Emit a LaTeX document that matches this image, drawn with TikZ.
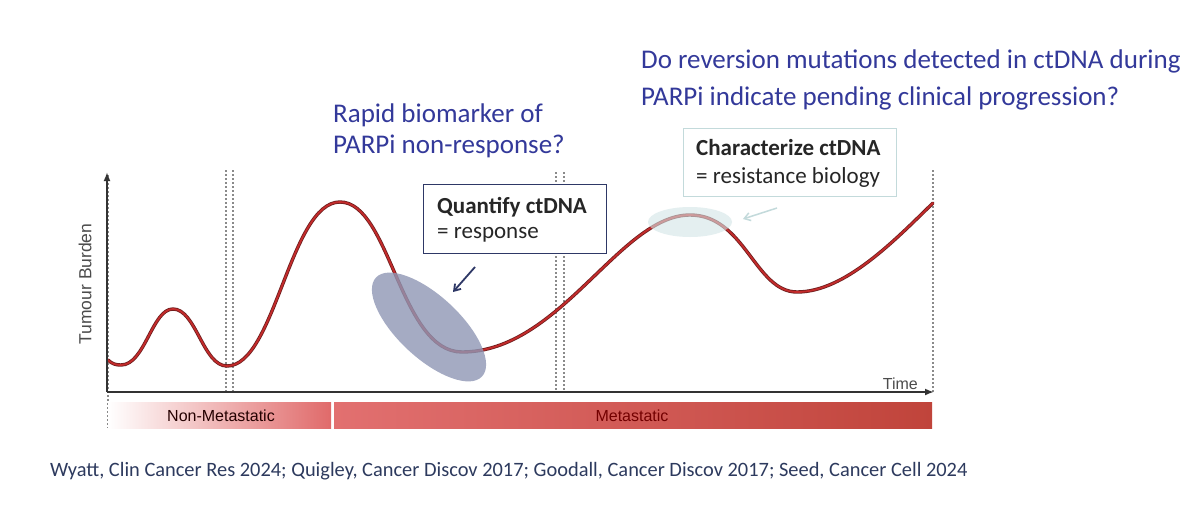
\documentclass[tikz,border=0pt]{standalone}
\usepackage{fontspec}
\setmainfont{Carlito}
\newfontfamily\arialfont{Liberation Sans}
\usetikzlibrary{arrows.meta,shapes.geometric}
\definecolor{navy}{HTML}{33399A}
\definecolor{boxline}{HTML}{2E3866}
\definecolor{cite}{HTML}{2D3A5E}
\definecolor{axis}{HTML}{333333}
\definecolor{guide}{HTML}{8A8A8A}
\definecolor{burden}{HTML}{C42B2B}
\definecolor{burdenedge}{HTML}{6E1E1E}
\definecolor{haze}{HTML}{8F97B5}
\definecolor{mint}{HTML}{D3E5E6}
\definecolor{mintline}{HTML}{C3DADB}
\definecolor{nonmet}{HTML}{E06A6A}
\definecolor{metleft}{HTML}{E27070}
\definecolor{metright}{HTML}{C0443B}
\tikzset{
  question/.style={font=\fontsize{27}{37}\selectfont, text=navy, align=left, inner sep=0pt},
  callout/.style={draw=boxline, line width=1.2pt, fill=white, align=left, inner sep=0pt},
  softcallout/.style={draw=mintline, line width=1pt, fill=white, align=left, inner sep=0pt},
  calltext/.style={font=\fontsize{23}{25}\selectfont, text=black!85, align=left, inner sep=0pt},
  axislabel/.style={font=\arialfont\fontsize{17.5}{20}\selectfont, text=black!70, inner sep=0pt},
  barlabel/.style={font=\arialfont\fontsize{16}{18}\selectfont, inner sep=0pt},
  guideline/.style={draw=guide, line width=1.4pt, dash pattern=on 2pt off 2pt},
  axisline/.style={draw=axis, line width=2pt, -{Latex[length=9pt,width=7pt]}},
  pointer/.style={-{Straight Barb[length=6pt,width=8pt]}, line width=1.8pt},
}
\begin{document}
\begin{tikzpicture}[x=1pt,y=-1pt]
\useasboundingbox[fill=white] (0,0) rectangle (1200,514);
% questions
\node[question, anchor=base west] (revq) at (641,105) {Do reversion mutations detected in ctDNA during\\PARPi indicate pending clinical progression?};
\node[question, font=\fontsize{27}{31}\selectfont, anchor=base west] (rapidq) at (333,153) {Rapid biomarker of\\PARPi non-response?};
% guides
\foreach \gx in {226,233} \draw[guideline] (\gx,170) -- (\gx,392);
\foreach \gx in {556,564} \draw[guideline] (\gx,172) -- (\gx,392);
\draw[guideline] (933,170) -- (933,392);
\draw[guideline] (108,175) -- (108,428);
% callouts
\node[callout, minimum width=183pt, minimum height=69pt, anchor=north west] (quant) at (423,184) {};
\node[calltext, anchor=base west] (quanttxt) at (437,238) {\textbf{Quantify ctDNA}\\= response};
\node[softcallout, minimum width=213pt, minimum height=68pt, anchor=north west] (charac) at (683,128) {};
\node[calltext, font=\fontsize{23}{28}\selectfont, anchor=base west] (charactxt) at (696,183) {\textbf{Characterize ctDNA}\\= resistance biology};
% tumour burden curve
\draw[burdenedge, line width=3.4pt, line cap=round]
  (108,360) .. controls (112,364) and (116,365) .. (121,365)
  .. controls (145,365) and (152,309) .. (173,309)
  .. controls (196,309) and (203,366) .. (227,366)
  .. controls (275,366) and (290,202) .. (340,202)
  .. controls (390,202) and (400,352) .. (462,352)
  .. controls (560,352) and (620,215) .. (690,215)
  .. controls (745,215) and (755,292) .. (797,292)
  .. controls (845,292) and (895,240) .. (933,203);
\draw[burden, line width=1.8pt, line cap=round]
  (108,360) .. controls (112,364) and (116,365) .. (121,365)
  .. controls (145,365) and (152,309) .. (173,309)
  .. controls (196,309) and (203,366) .. (227,366)
  .. controls (275,366) and (290,202) .. (340,202)
  .. controls (390,202) and (400,352) .. (462,352)
  .. controls (560,352) and (620,215) .. (690,215)
  .. controls (745,215) and (755,292) .. (797,292)
  .. controls (845,292) and (895,240) .. (933,203);
% highlights
\node[ellipse, fill=haze, fill opacity=0.8, minimum width=145pt, minimum height=62pt, rotate=-43, inner sep=0pt] (dip) at (429,327) {};
\node[ellipse, fill=mint, fill opacity=0.6, minimum width=84pt, minimum height=30pt, inner sep=0pt] (crest) at (690,222) {};
\coordinate (diptail) at (475,267);
\coordinate (diphead) at (453,292);
\draw[pointer, draw=boxline] (diptail) -- (diphead);
\coordinate (cresttail) at (777,208);
\coordinate (cresthead) at (743,219);
\draw[pointer, draw=mintline, line width=1.5pt] (cresttail) -- (cresthead);
% axes
\coordinate (origin) at (107,392);
\coordinate (ytop) at (107,172);
\coordinate (xend) at (934,392);
\draw[axisline] (origin) -- (ytop);
\draw[axisline] (origin) -- (xend);
\node[axislabel, rotate=90] (ylab) at (85,284) {Tumour Burden};
\node[axislabel, font=\arialfont\fontsize{16}{18}\selectfont, anchor=base east] (xlab) at (918,389) {Time};
% stages
\shade[left color=white, right color=nonmet] (108,402) rectangle (331,428);
\shade[left color=metleft, right color=metright] (334,402) rectangle (932,428);
\node[barlabel, text=black!65!red!40!black] (nonmetlab) at (221,416) {Non-Metastatic};
\node[barlabel, text=red!45!black] (metlab) at (632,416) {Metastatic};
% references
\node[font=\fontsize{20.4}{24}\selectfont, text=cite, anchor=base west, inner sep=0pt] (refs) at (50,476) {Wyatt, Clin Cancer Res 2024; Quigley, Cancer Discov 2017; Goodall, Cancer Discov 2017; Seed, Cancer Cell 2024};
\end{tikzpicture}
\end{document}
